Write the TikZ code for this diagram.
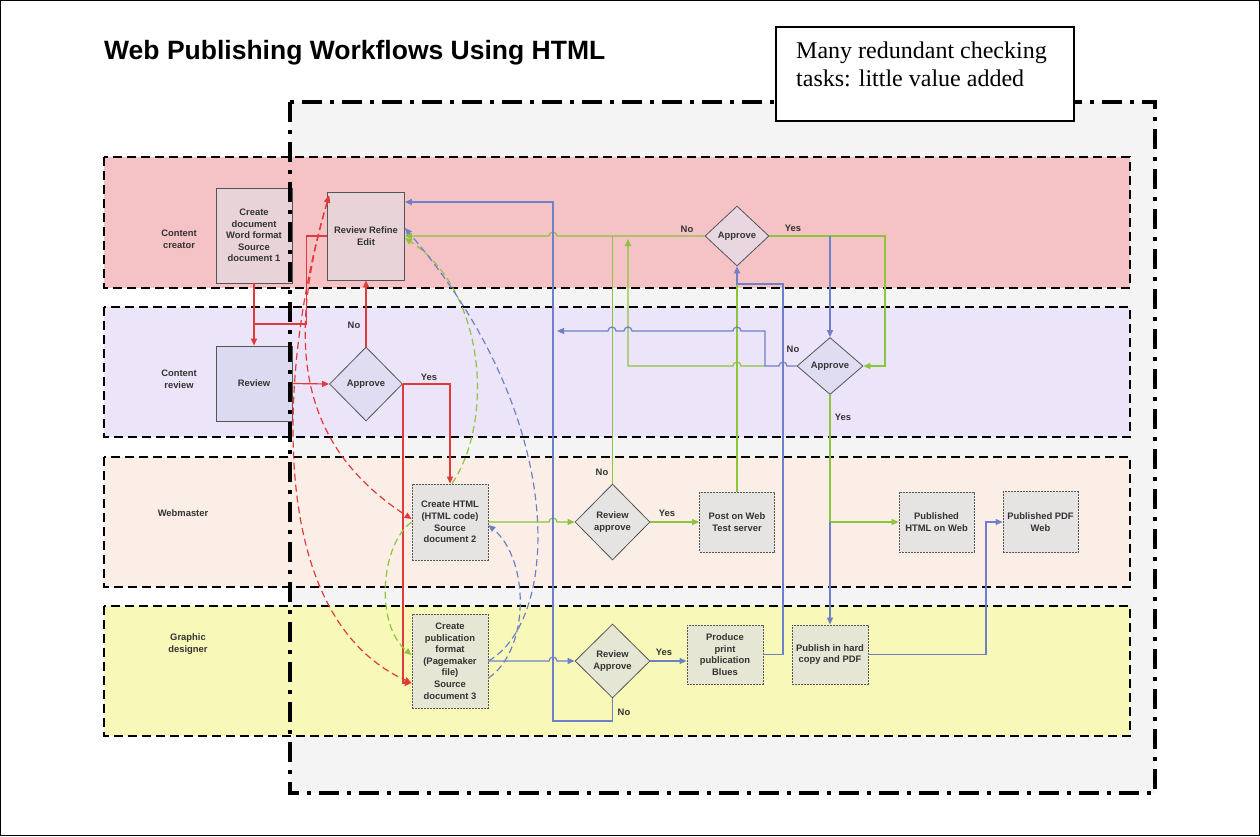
\documentclass[tikz,border=0pt]{standalone}
\usepackage{fontspec}
\setmainfont{Liberation Sans}
\newfontfamily\calloutfont{Liberation Serif}
\usetikzlibrary{shapes.geometric,arrows.meta}
\definecolor{lred}{HTML}{E03A3A}
\definecolor{lgreen}{HTML}{8CC43C}
\definecolor{lblue}{HTML}{6F80C8}
\definecolor{txt}{HTML}{333333}
\definecolor{edgec}{HTML}{555555}
\definecolor{laneA}{HTML}{F5C2C6}
\definecolor{laneB}{HTML}{ECE4F8}
\definecolor{laneC}{HTML}{FAEEE6}
\definecolor{laneD}{HTML}{F8F8B8}
\definecolor{bigfill}{HTML}{F4F4F4}
\definecolor{pinkbox}{HTML}{E8D4D8}
\definecolor{pinkdia}{HTML}{E8D6E0}
\definecolor{lavbox}{HTML}{DCDAF0}
\definecolor{lavdia}{HTML}{E0DCF2}
\definecolor{greybox}{HTML}{E6E3E3}
\definecolor{yelbox}{HTML}{E6E6D4}
\tikzset{
  txtfont/.style={font=\bfseries\fontsize{9.4}{11.6}\selectfont, text=txt},
  lbl/.style={txtfont, align=center, inner sep=0pt},
  proc/.style={rectangle, draw=edgec, line width=0.8pt, inner sep=0pt, align=center, txtfont},
  dproc/.style={proc, dash pattern=on 2pt off 1pt},
  dec/.style={diamond, draw=edgec, line width=0.8pt, inner sep=0pt, aspect=1, align=center, txtfont},
  lanebox/.style={draw=black, line width=2.5pt, dash pattern=on 9pt off 5pt},
  rl/.style={draw=lred, line width=1.2pt},
  gl/.style={draw=lgreen, line width=1.2pt},
  bl/.style={draw=lblue, line width=1.2pt},
  dsh/.style={dash pattern=on 7pt off 4pt},
  harrow/.style={-{Triangle[length=7pt,width=6pt]}},
  harrows/.style={{Triangle[length=7pt,width=6pt]}-{Triangle[length=7pt,width=6pt]}},
}
\begin{document}
\begin{tikzpicture}[x=1pt,y=-1pt]
\useasboundingbox (0,0) rectangle (1260,836);
\fill[white] (0,0) rectangle (1260,836);
\draw[line width=1.2pt] (0.6,0.6) rectangle (1259.4,835.4);

% big framed area
\fill[bigfill] (290,102) rectangle (1155,793);

% lanes
\draw[lanebox,fill=laneA] (104,157) rectangle (1130,288);
\draw[lanebox,fill=laneB] (104,307) rectangle (1130,437);
\draw[lanebox,fill=laneC] (104,457) rectangle (1130,587);
\draw[lanebox,fill=laneD] (104,606) rectangle (1130,736);

\node[lbl] (lA) at (179,239) {Content\\creator};
\node[lbl] (lB) at (179,379) {Content\\review};
\node[lbl] (lC) at (183,513) {Webmaster};
\node[lbl] (lD) at (188,644) {Graphic\\designer};

% nodes
\node[proc,fill=pinkbox,minimum width=76pt,minimum height=95pt] (cd) at (254,235.5) {Create\\document\\Word format\\Source\\document 1};
\node[proc,fill=lavbox,minimum width=76pt,minimum height=75pt] (rv) at (254,383.5) {Review};
\node[proc,fill=pinkbox,minimum width=77pt,minimum height=88pt] (rre) at (366,236) {Review Refine\\Edit};
\node[dec,fill=lavdia,minimum width=73pt,minimum height=74pt] (ap1) at (366,384) {Approve};
\node[dproc,fill=greybox,minimum width=76pt,minimum height=76pt] (ch) at (450,522) {Create HTML\\(HTML code)\\Source\\document 2};
\node[dproc,fill=yelbox,minimum width=76pt,minimum height=94pt] (cp) at (450,661) {Create\\publication\\format\\(Pagemaker\\file)\\Source\\document 3};
\node[dec,fill=greybox,minimum width=75pt,minimum height=76pt] (ra1) at (612.5,522) {Review\\approve};
\node[dproc,fill=greybox,minimum width=75pt,minimum height=60pt] (pw) at (737,522) {Post on Web\\Test server};
\node[dproc,fill=greybox,minimum width=75pt,minimum height=60pt] (ph) at (936.5,522) {Published\\HTML on Web};
\node[dproc,fill=greybox,minimum width=75pt,minimum height=61pt] (pp) at (1040.5,522) {Published PDF\\Web};
\node[dec,fill=yelbox,minimum width=75pt,minimum height=74pt] (ra2) at (612.5,661) {Review\\Approve};
\node[dproc,fill=yelbox,minimum width=76pt,minimum height=59pt] (pr) at (725,654.5) {Produce\\print\\publication\\Blues};
\node[dproc,fill=yelbox,minimum width=76pt,minimum height=59pt] (hc) at (830,654.5) {Publish in hard\\copy and PDF};
\node[dec,fill=pinkdia,minimum width=64pt,minimum height=60pt] (ap2) at (737,236) {Approve};
\node[dec,fill=lavdia,minimum width=66pt,minimum height=57pt] (ap3) at (830,366) {Approve};

% helper coordinates
\coordinate (j1) at (254,324);
\coordinate (jg) at (765,366);

% red connectors
\draw[rl,harrow] (cd.south) -- (rv.north);
\draw[rl] (j1) -| ([xshift=-21pt]rre.west) -- (rre.west);
\draw[rl,harrow] (rv.east) -- (ap1.west);
\draw[rl,harrow] (ap1.north) -- (ap1.north |- rre.south);
\draw[rl,harrow] (ap1.east) -| (ch.north);
\draw[rl,harrow] (ap1.east) |- ([yshift=-22pt]cp.west);
\draw[rl,dsh,harrows] ([xshift=2pt,yshift=-4pt]rre.north west) .. controls (280,360) and (262,615) .. ([yshift=-22pt]cp.west);
\draw[rl,dsh,harrows] ([xshift=2pt,yshift=-4pt]rre.north west) .. controls (290,330) and (290,440) .. ([yshift=3pt]ch.west);

% green dashed
\draw[gl,dsh,harrow] ([xshift=2pt]ch.north) .. controls (495,420) and (485,290) .. ([yshift=-2pt]rre.east);
\draw[gl,dsh,harrow] (ch.west) .. controls (380,545) and (375,625) .. ([yshift=6pt]cp.west);

% blue dashed
\draw[bl,dsh,harrow] (cp.east) .. controls (560,620) and (570,420) .. ([yshift=8pt]rre.east);
\draw[bl,dsh,harrow] ([yshift=-17pt]cp.east) .. controls (530,650) and (530,560) .. ([yshift=-3pt]ch.east);

% green solid
\draw[gl,harrow] (ap2.west) -- (557,236) arc[start angle=0,end angle=180,radius=4pt] -- (rre.east);
\draw[gl] (ra1.north) -- (ra1.north |- ap2.west);
\draw[gl] (pw.north) -- (737,284);
\draw[gl,harrow] (ap2.east) -| (885,366) -- (ap3.east);
\draw[gl,harrow] (jg) -- (741,366) arc[start angle=0,end angle=180,radius=4pt] -- (628,366) -- (628,239);
\draw[gl,harrow] (ap3.south) |- (ph.west);
\draw[gl,harrow] (ch.east) -- (549,522) arc[start angle=180,end angle=0,radius=4pt] -- (ra1.west);
\draw[gl,harrow] (ra1.east) -- (pw.west);

% blue solid
\draw[bl,harrow] (ap3.north |- ap2.east) -- (ap3.north);
\draw[bl,harrow] (ap3.west) -- (787,366) arc[start angle=0,end angle=180,radius=4pt] -- (jg) -- (765,331) -- (741,331) arc[start angle=0,end angle=180,radius=4pt] -- (632,331) arc[start angle=0,end angle=180,radius=4pt] -- (616,331) arc[start angle=0,end angle=180,radius=4pt] -- (557,331);
\draw[bl,harrow] (ra2.south) |- (553,721) -- (553,202) -- (rre.east |- 0,202);
\draw[bl,harrow] (cp.east) -- (549,661) arc[start angle=180,end angle=0,radius=4pt] -- (ra2.west);
\draw[bl,harrow] (ra2.east) -- (ra2.east -| pr.west);
\draw[bl,harrow] (pr.east) -| (783,284) -| (ap2.south);
\draw[bl,harrow] (ap3.south |- ph.west) -- (hc.north);
\draw[bl,harrow] (hc.east) -| (986,522) -- (pp.west);

% Yes / No labels
\node[lbl] (n1) at (354,325) {No};
\node[lbl] (y1) at (429,377) {Yes};
\node[lbl] (n2) at (602,472) {No};
\node[lbl] (y2) at (667,513) {Yes};
\node[lbl] (y3) at (664,652) {Yes};
\node[lbl] (n3) at (624,712) {No};
\node[lbl] (n4) at (687,229) {No};
\node[lbl] (y4) at (793,228) {Yes};
\node[lbl] (n5) at (793,349) {No};
\node[lbl] (y5) at (843,417) {Yes};

% big frame border
\draw[line width=4pt, dash pattern=on 20pt off 8pt on 4pt off 8pt] (290,102) rectangle (1155,793);

% callout
\draw[line width=1.5pt,fill=white] (776,27) rectangle (1074,121);
\node[anchor=north west,inner sep=0pt,align=left,font=\calloutfont\fontsize{24}{28}\selectfont] (ctext) at (796,42) {Many redundant checking\\tasks: little value added};

% title
\node[anchor=base west,inner sep=0pt,font=\bfseries\fontsize{26.5}{30}\selectfont] (title) at (104,59) {Web Publishing Workflows Using HTML};
\end{tikzpicture}
\end{document}
